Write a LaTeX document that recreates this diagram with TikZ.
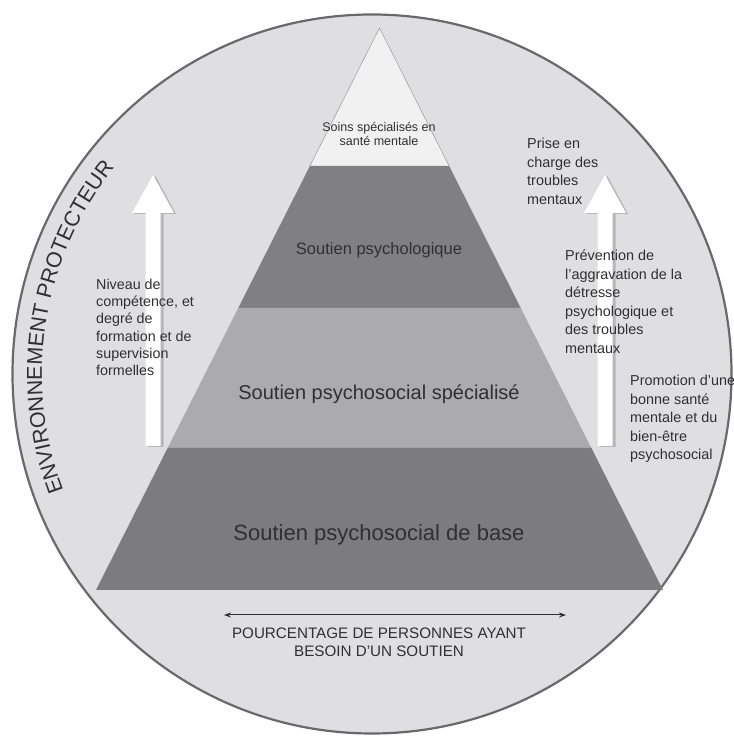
\documentclass[tikz,border=0pt]{standalone}
\usepackage{fontspec}
\setmainfont{Liberation Sans}
\usetikzlibrary{decorations.text,arrows.meta,calc}
\definecolor{bgc}{RGB}{223,223,225}
\definecolor{ring}{RGB}{105,105,108}
\definecolor{lone}{RGB}{241,241,241}
\definecolor{ltwo}{RGB}{128,128,131}
\definecolor{lthree}{RGB}{171,171,173}
\definecolor{lfour}{RGB}{124,124,127}
\definecolor{txt}{RGB}{48,48,48}
\tikzset{
  lbl/.style={text=txt, inner sep=0pt, font=\fontsize{14.4}{18.5}\selectfont, align=left, anchor=north west},
  lvl/.style={text=txt, inner sep=0pt, align=center},
  blockarrow/.pic={
    \fill[black, opacity=0.18] (-5.5,-1) -- (-5.5,232) -- (-19,232) -- (2.5,270) -- (23,232) -- (10.5,232) -- (10.5,-1) -- cycle;
    \fill[white] (-7.5,0) -- (-7.5,233) -- (-21,233) -- (0,271) -- (21,233) -- (7.5,233) -- (7.5,0) -- cycle;
  }
}
\begin{document}
\begin{tikzpicture}[x=1pt,y=1pt]
\useasboundingbox (0,0) rectangle (733,738);
\fill[white] (0,0) rectangle (733,738);
\node[circle, draw=ring, fill=bgc, line width=2.2pt, minimum size=719pt, inner sep=0pt] (env) at (372,364) {};
% pyramid
\coordinate (apex) at (379.5,710);
\coordinate (bl) at (96,148);
\coordinate (br) at (663,148);
\coordinate (a1) at ($(apex)!0.24555!(bl)$);
\coordinate (b1) at ($(apex)!0.24555!(br)$);
\coordinate (a2) at ($(apex)!0.49822!(bl)$);
\coordinate (b2) at ($(apex)!0.49822!(br)$);
\coordinate (a3) at ($(apex)!0.74733!(bl)$);
\coordinate (b3) at ($(apex)!0.74733!(br)$);
\fill[lone] (apex) -- (b1) -- (a1) -- cycle;
\fill[ltwo] (a1) -- (b1) -- (b2) -- (a2) -- cycle;
\fill[lthree] (a2) -- (b2) -- (b3) -- (a3) -- cycle;
\fill[lfour] (a3) -- (b3) -- (br) -- (bl) -- cycle;
\draw[gray!80, line width=0.5pt] (apex) -- (a1) (apex) -- (b1);
% level labels
\node[lvl, font=\fontsize{12.5}{14.5}\selectfont] (t1) at (379,604) {Soins spécialisés en\\santé mentale};
\node[lvl, font=\fontsize{16.5}{19}\selectfont] (t2) at (379,488) {Soutien psychologique};
\node[lvl, font=\fontsize{20}{23}\selectfont] (t3) at (379,344) {Soutien psychosocial spécialisé};
\node[lvl, font=\fontsize{22}{25}\selectfont] (t4) at (379,203) {Soutien psychosocial de base};
% block arrows
\pic at (153,292) {blockarrow};
\pic at (605,292) {blockarrow};
% side texts
\node[lbl, font=\fontsize{14.3}{17.2}\selectfont] (left) at (96,459) {Niveau de\\compétence, et\\degré de\\formation et de\\supervision\\formelles};
\node[lbl] (r1) at (527,600) {Prise en\\charge des\\troubles\\mentaux};
\node[lbl] (r2) at (565,488) {Prévention de\\l’aggravation de la\\détresse\\psychologique et\\des troubles\\mentaux};
\node[lbl] (r3) at (630,363) {Promotion d’une\\bonne santé\\mentale et du\\bien-être\\psychosocial};
% bottom arrow
\coordinate (pl) at (224,123);
\coordinate (pr) at (566,123);
\draw[txt, line width=1pt, {Stealth[length=7pt,width=5pt]}-{Stealth[length=7pt,width=5pt]}] (pl) -- (pr);
\node[lvl, font=\fontsize{15.2}{18}\selectfont] (pct) at (379,96) {POURCENTAGE DE PERSONNES AYANT\\BESOIN D’UN SOUTIEN};
% curved label
\path[decorate, decoration={text along path, text align=center,
  text={|\fontsize{21.5}{24}\selectfont\color{txt}|ENVIRONNEMENT PROTECTEUR}}]
  ($(372,364)+(211:330)$) arc[start angle=211, end angle=131, radius=330];
\end{tikzpicture}
\end{document}
